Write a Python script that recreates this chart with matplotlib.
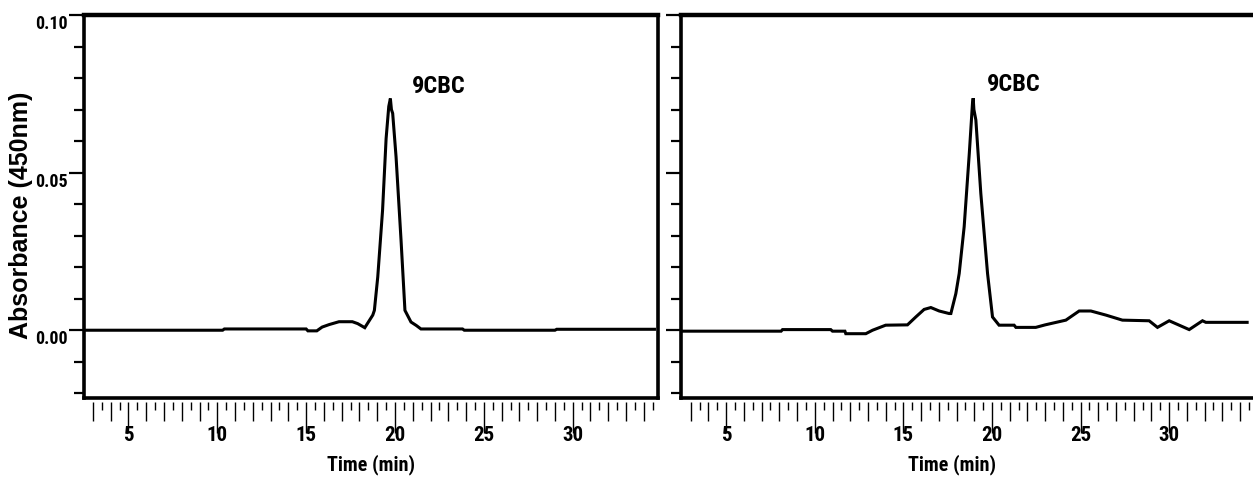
import matplotlib
matplotlib.use('Agg')
import matplotlib.pyplot as plt
from matplotlib import font_manager
from matplotlib.ticker import FuncFormatter
import numpy as np

# chromatogram readings (time in min, absorbance at 450 nm)
t_left = [2.5, 10.3, 10.4, 15.0, 15.1, 15.6, 15.9, 16.3, 16.85, 17.6, 17.9, 18.3,
          18.75, 18.84, 19.03, 19.3, 19.5, 19.65, 19.74, 19.8, 19.87, 20.06, 20.34,
          20.56, 20.9, 21.2, 21.46, 23.8, 23.9, 29.0, 29.1, 34.6]
a_left = [0.0, 0.0, 0.0004, 0.0004, -0.0002, -0.0002, 0.001, 0.0018, 0.0027, 0.0027,
          0.0021, 0.0008, 0.0048, 0.0063, 0.0169, 0.038, 0.0608, 0.071, 0.0735, 0.070,
          0.0688, 0.055, 0.0286, 0.0063, 0.0026, 0.0015, 0.0004, 0.0004, 0.0, 0.0,
          0.0003, 0.0003]

t_right = [2.45, 8.1, 8.18, 10.9, 11.0, 11.7, 11.75, 12.88, 13.26, 14.0, 15.23, 15.7,
           16.17, 16.55, 17.02, 17.58, 17.68, 17.96, 18.15, 18.43, 18.72, 18.9, 18.94,
           18.98, 19.09, 19.37, 19.75, 20.03, 20.4, 21.25, 21.35, 22.47, 23.0, 24.17,
           24.92, 25.58, 26.43, 27.36, 28.87, 29.34, 30.0, 31.13, 31.88, 32.07, 34.4]
a_right = [-0.0003, -0.0003, 0.0002, 0.0002, -0.0003, -0.0003, -0.0011, -0.0011, 0.0,
           0.0016, 0.0017, 0.0042, 0.0066, 0.0072, 0.0061, 0.0053, 0.0053, 0.0116, 0.018,
           0.0328, 0.0561, 0.072, 0.0736, 0.070, 0.0667, 0.0434, 0.018, 0.0042, 0.0016,
           0.0016, 0.0009, 0.0009, 0.0017, 0.0032, 0.0061, 0.0061, 0.0048, 0.0032, 0.003,
           0.0009, 0.003, 0.0002, 0.003, 0.0025, 0.0025]

peak_label = '9CBC'
peak_pos = [(22.47, 0.0773), (21.25, 0.0778)]
yticks = [0.0, 0.05, 0.10]
ytick_labels = ['0.00', '0.05', '0.10']

narrow = dict(family='Roboto Condensed', weight='bold')

fig = plt.figure(figsize=(12.53, 5.0), dpi=100)
W, H = 1253.0, 500.0
ax1 = fig.add_axes([84 / W, 1 - 398 / H, 574 / W, 383 / H])
ax2 = fig.add_axes([681 / W, 1 - 398 / H, 575 / W, 383 / H])

panels = [(ax1, t_left, a_left, (2.5, 34.8), True),
          (ax2, t_right, a_right, (2.45, 34.9), False)]

lab5 = FuncFormatter(lambda v, p: '%d' % round(v) if round(v) % 5 == 0 else '')

for i, (ax, t, a, xl, first) in enumerate(panels):
    ax.plot(t, a, color='black', lw=2.2, solid_joinstyle='miter')
    ax.set_xlim(*xl)
    ax.set_ylim(-0.0215, 0.10)

    for s in ['left', 'right']:
        ax.spines[s].set_linewidth(2.6)
    ax.spines['top'].set_linewidth(3.2)
    # ruler sits a little below the frame
    ax.spines['bottom'].set_position(('outward', 3))
    ax.spines['bottom'].set_visible(False)
    ax.plot([0, 1], [0, 0], transform=ax.transAxes, color='black', lw=2.6,
            clip_on=False, solid_capstyle='projecting')

    # 1 min ticks, longer every 5 min, short ones at the half minute
    ax.set_xticks(np.arange(3, int(xl[1]) + 1, 1))
    ax.set_xticks(np.arange(3.5, xl[1], 1.0), minor=True)
    ax.xaxis.set_major_formatter(lab5)
    ax.tick_params(axis='x', which='major', direction='out', length=14, width=1.0,
                   pad=3.5, labelsize=15)
    ax.tick_params(axis='x', which='minor', direction='out', length=6, width=1.0)
    for tk, v in zip(ax.xaxis.get_major_ticks(), ax.get_xticks()):
        if round(v) % 5 == 0:
            tk.tick1line.set_markersize(22)

    ax.set_yticks(yticks)
    ax.set_yticks(np.arange(-0.02, 0.1001, 0.01), minor=True)
    ax.tick_params(axis='y', which='major', direction='out', length=11, width=1.6,
                   pad=0.5, labelsize=13)
    ax.tick_params(axis='y', which='minor', direction='out', length=7, width=1.6)

    for lab in ax.get_xticklabels():
        lab.set_fontproperties(font_manager.FontProperties(size=15, **narrow))
    if first:
        ax.set_yticklabels(ytick_labels)
        for lab in ax.get_yticklabels():
            lab.set_fontproperties(font_manager.FontProperties(size=13, **narrow))
            lab.set_va('top')
        ax.set_ylabel('Absorbance (450nm)', family='Liberation Sans', weight='bold',
                      fontsize=18)
        ax.yaxis.set_label_coords(-0.089, 0.478)
    else:
        ax.set_yticklabels([])

    ax.set_xlabel('Time (min)', fontsize=14.5, **narrow)
    ax.xaxis.set_label_coords(0.5 if first else 0.471, -0.147)

    ax.text(peak_pos[i][0], peak_pos[i][1], peak_label, ha='center', va='center',
            fontsize=17.5, **narrow)

fig.savefig('out.png', dpi=100)
